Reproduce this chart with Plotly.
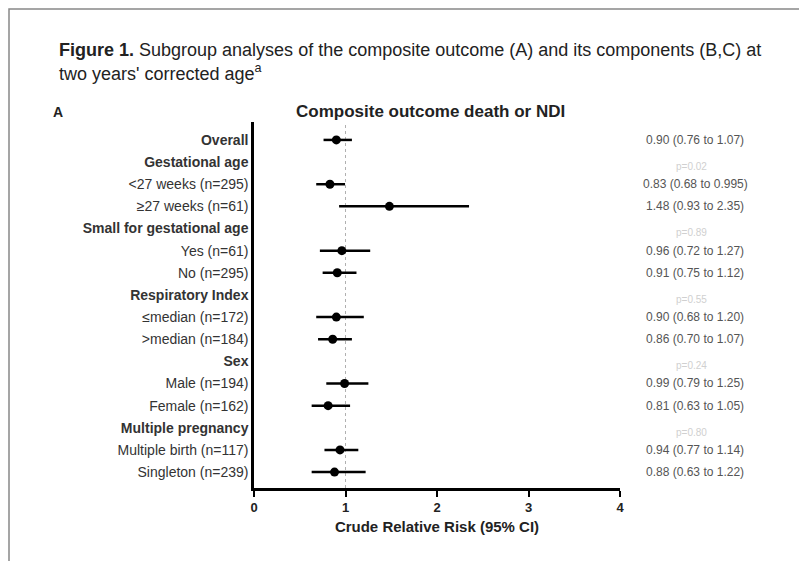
import plotly.graph_objects as go

# Données
labels = ['Overall', 'Gestational age', '<27 weeks (n=295)', '≥27 weeks (n=61)',
          'Small for gestational age', 'Yes (n=61)', 'No (n=295)',
          'Respiratory Index', '≤median (n=172)', '>median (n=184)',
          'Sex', 'Male (n=194)', 'Female (n=162)',
          'Multiple pregnancy', 'Multiple birth (n=117)', 'Singleton (n=239)']
is_header = [True, True, False, False, True, False, False, True, False, False,
             True, False, False, True, False, False]
rr = [0.90, None, 0.83, 1.48, None, 0.96, 0.91, None, 0.90, 0.86, None, 0.99, 0.81, None, 0.94, 0.88]
lo = [0.76, None, 0.68, 0.93, None, 0.72, 0.75, None, 0.68, 0.70, None, 0.79, 0.63, None, 0.77, 0.63]
hi = [1.07, None, 0.995, 2.35, None, 1.27, 1.12, None, 1.20, 1.07, None, 1.25, 1.05, None, 1.14, 1.22]
est_text = ['0.90 (0.76 to 1.07)', '', '0.83 (0.68 to 0.995)', '1.48 (0.93 to 2.35)', '',
            '0.96 (0.72 to 1.27)', '0.91 (0.75 to 1.12)', '', '0.90 (0.68 to 1.20)',
            '0.86 (0.70 to 1.07)', '', '0.99 (0.79 to 1.25)', '0.81 (0.63 to 1.05)', '',
            '0.94 (0.77 to 1.14)', '0.88 (0.63 to 1.22)']
p_text = ['', 'p=0.02', '', '', 'p=0.89', '', '', 'p=0.55', '', '', 'p=0.24', '', '', 'p=0.80', '', '']
x_ticks = [0, 1, 2, 3, 4]

rows = list(range(len(labels)))
ticktext = ['<b>' + l + '</b>' if h else l for l, h in zip(labels, is_header)]

ys = [r for r, v in zip(rows, rr) if v is not None]
xs = [v for v in rr if v is not None]
plus = [h - v for h, v in zip(hi, rr) if v is not None]
minus = [v - l for l, v in zip(lo, rr) if v is not None]


# position en pixels écran -> coordonnées "paper"
def px_x(x):
    return (x - 254) / 366


def px_y(y):
    return (488 - y) / 366


fig = go.Figure()

# Ligne de référence à 1
fig.add_shape(type='line', x0=1, x1=1, y0=0, y1=1, xref='x', yref='paper',
              line=dict(color='#b0b0b0', width=1, dash='dot'), layer='below')

fig.add_trace(go.Scatter(
    x=xs, y=ys, mode='markers',
    marker=dict(color='black', size=9),
    error_x=dict(type='data', symmetric=False, array=plus, arrayminus=minus,
                 color='black', thickness=2.5, width=0),
    showlegend=False, hoverinfo='skip'))

# Colonne de droite : estimations et valeurs p
for r in rows:
    if est_text[r]:
        fig.add_annotation(x=px_x(695), xref='paper', y=r, yref='y', text=est_text[r],
                           xanchor='center', showarrow=False, font=dict(size=12, color='#555555'))
for r in rows:
    if p_text[r]:
        fig.add_annotation(x=px_x(691), xref='paper', y=r + 0.2, yref='y', text=p_text[r],
                           xanchor='center', showarrow=False, font=dict(size=10, color='#d0d0d0'))

fig.update_layout(
    width=799, height=553,
    margin=dict(l=246, r=187, t=114, b=73),
    paper_bgcolor='white', plot_bgcolor='white',
    font=dict(family='Liberation Sans, Arial, sans-serif', color='#222222'),
    xaxis=dict(range=[0, 4], tickvals=x_ticks, ticktext=['<b>%d</b>' % t for t in x_ticks],
               showgrid=False, zeroline=False, showline=True, linecolor='black', linewidth=2.5,
               ticks='outside', ticklen=6, tickwidth=2, tickcolor='black',
               tickfont=dict(size=13, color='#222222'),
               title=dict(text='<b>Crude Relative Risk (95% CI)</b>', font=dict(size=15), standoff=8)),
    yaxis=dict(range=[15.72, -0.81], tickvals=rows, ticktext=ticktext,
               showgrid=False, zeroline=False, showline=True, linecolor='black', linewidth=2.5,
               ticks='', ticklen=0, tickfont=dict(size=14, color='#333333')),
)

# Titres
fig.add_annotation(xref='paper', yref='paper', x=px_x(57), y=px_y(50),
                   xanchor='left', yanchor='middle', showarrow=False,
                   text='<b>Figure 1.</b> Subgroup analyses of the composite outcome (A) and its components (B,C) at',
                   font=dict(size=18, color='#222222'))
fig.add_annotation(xref='paper', yref='paper', x=px_x(57), y=px_y(73),
                   xanchor='left', yanchor='middle', showarrow=False,
                   text="two years' corrected age<sup>a</sup>",
                   font=dict(size=18, color='#222222'))
fig.add_annotation(xref='paper', yref='paper', x=px_x(51), y=px_y(112),
                   xanchor='left', yanchor='middle', showarrow=False,
                   text='<b>A</b>', font=dict(size=14, color='#222222'))
fig.add_annotation(xref='paper', yref='paper', x=px_x(430), y=px_y(112),
                   xanchor='center', yanchor='middle', showarrow=False,
                   text='<b>Composite outcome death or NDI</b>', font=dict(size=17, color='#222222'))

# Cadre de la page scannée
fig.add_shape(type='rect', xref='paper', yref='paper',
              x0=px_x(9), x1=px_x(803), y0=px_y(600), y1=px_y(9),
              line=dict(color='#888888', width=1.5))

fig.write_html('out.html')
